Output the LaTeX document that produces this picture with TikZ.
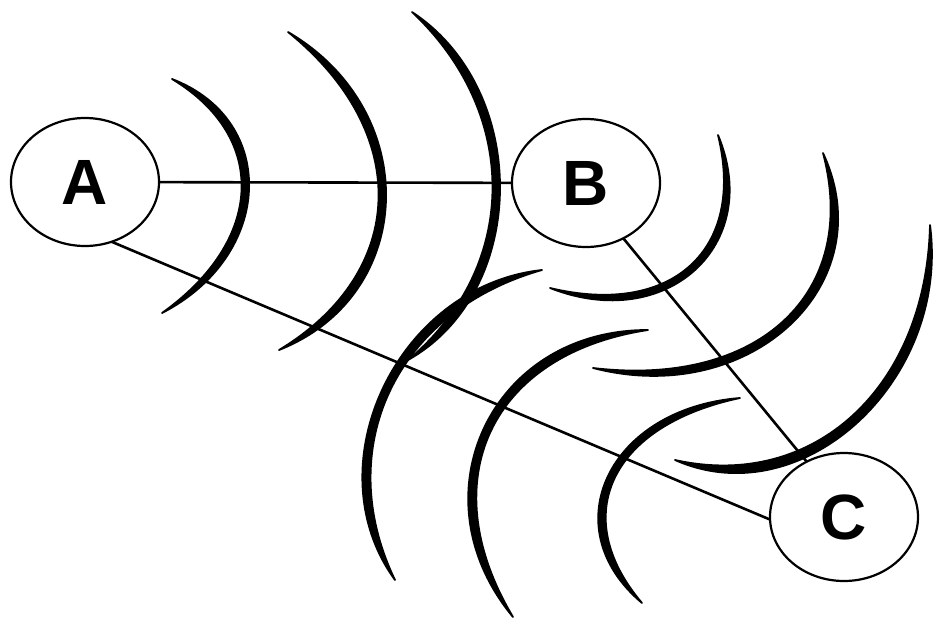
\documentclass[tikz,border=0pt]{standalone}
\usepackage{fontspec}
\setmainfont{Liberation Sans}
\usetikzlibrary{calc,shapes.geometric}
% #1 start, #2 outer apex, #3 end, #4 thickness at apex, #5 roundness outer, #6 roundness inner
\newcommand\wavearc[6]{%
  \coordinate (ws) at #1;
  \coordinate (wm) at #2;
  \coordinate (we) at #3;
  \coordinate (wh) at ($(ws)!0.5!(we)$);
  \coordinate (wi) at ($(wm)!#4!(wh)$);
  \filldraw[arcstroke]
    (ws) .. controls ($(ws)!#5!(wh)+1.3333*(wm)-1.3333*(wh)$) and ($(we)!#5!(wh)+1.3333*(wm)-1.3333*(wh)$) .. (we)
    .. controls ($(we)!#6!(wh)+1.3333*(wi)-1.3333*(wh)$) and ($(ws)!#6!(wh)+1.3333*(wi)-1.3333*(wh)$) .. (ws) -- cycle;
}
\tikzset{
  station/.style={ellipse, draw, line width=2.2pt, minimum width=148pt, minimum height=128pt,
    inner sep=0pt, outer sep=0pt, font=\fontsize{64}{64}\selectfont\bfseries},
  link/.style={line width=2.6pt},
  arcstroke/.style={fill=black, draw=black, line width=1.8pt, line join=round}
}
\begin{document}
\begin{tikzpicture}[x=1pt,y=-1pt]
\useasboundingbox (0,0) rectangle (943,619);
\node[station] (A) at (85,182) {\raisebox{-4pt}{A}};
\node[station] (B) at (586,183) {\raisebox{-2pt}{B}};
\node[station] (C) at (844,517) {C};
\draw[link] (A) -- (B);
\draw[link] (A.294) -- (C.182);
\draw[link] (B.304) -- (C.124);
% arcs around A
\wavearc{(172,79)}{(249,190)}{(162,313)}{7.5pt}{0.42}{0.56}
\wavearc{(288,32)}{(386,200)}{(279,350)}{7.5pt}{0.42}{0.56}
\wavearc{(412,12)}{(500,190)}{(408,360)}{7.5pt}{0.42}{0.56}
% arcs around C
\wavearc{(395,580)}{(383,388)}{(542,270)}{7.5pt}{0.42}{0.56}
\wavearc{(513,617)}{(484,428)}{(648,330)}{7.5pt}{0.42}{0.56}
\wavearc{(642,603)}{(608,476)}{(740,398)}{7pt}{0.42}{0.56}
% arcs around B
\wavearc{(718,135)}{(695,270)}{(550,288)}{6.5pt}{0.42}{0.56}
\wavearc{(823,153)}{(790,325)}{(593,368)}{7.5pt}{0.42}{0.56}
\wavearc{(930,225)}{(858,422)}{(675,460)}{8.5pt}{0.42}{0.56}
\end{tikzpicture}
\end{document}
